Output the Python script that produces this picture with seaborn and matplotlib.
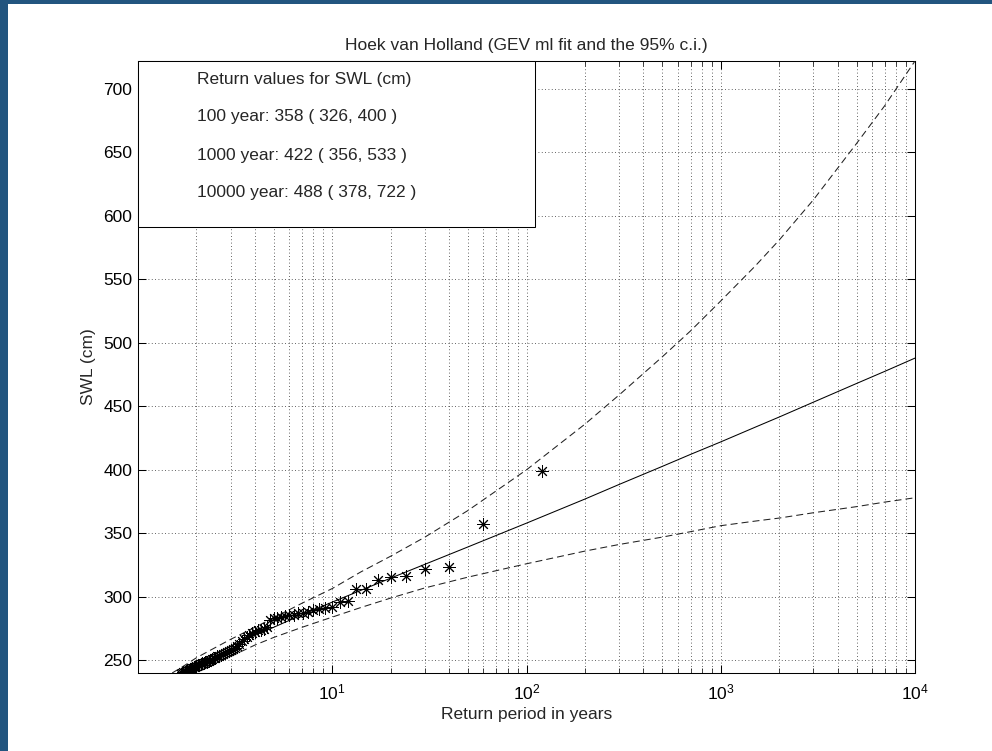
import matplotlib
matplotlib.use("Agg")
import matplotlib.pyplot as plt
import seaborn as sns
import pandas as pd
from matplotlib.ticker import FixedLocator, LogLocator, NullFormatter
from matplotlib.patches import Rectangle

# ---------------- data ----------------
obs_return_period = [120, 60, 40, 30, 24, 20, 17.14, 15, 13.33, 12, 10.91, 10, 9.23, 8.57,
                     8, 7.5, 7.06, 6.67, 6.32, 6, 5.71, 5.45, 5.22, 5, 4.8, 4.62, 4.44, 4.29,
                     4.14, 4, 3.87, 3.75, 3.64, 3.53, 3.43, 3.33, 3.24, 3.16, 3.08, 3, 2.93,
                     2.86, 2.79, 2.73, 2.67, 2.61, 2.55, 2.5, 2.45, 2.4, 2.35, 2.31, 2.26,
                     2.22, 2.18, 2.14, 2.11, 2.07, 2.03, 2, 1.97, 1.94, 1.9, 1.88, 1.85, 1.82,
                     1.79, 1.76, 1.74, 1.71, 1.69, 1.67]
obs_swl = [399, 357, 323.5, 322, 316.5, 315.5, 313.5, 306.5, 306, 297, 296, 292, 291.5, 290,
           289.5, 288, 287.5, 287, 286, 285.5, 285, 284, 283.5, 283, 281.5, 276, 275, 274,
           273.5, 272.5, 271.5, 270, 268.5, 267, 265, 263, 261, 259.5, 258.5, 258, 257,
           256.5, 256, 255, 254.5, 253.5, 253, 252, 251.5, 251, 250, 249.5, 249, 248.5,
           248, 247.5, 247, 246.5, 246, 245.5, 245, 244.5, 244, 243.5, 243, 242.5, 242,
           241.5, 241, 240.5, 240, 239.5]

fit_return_period = [1.5, 1.7, 2, 2.5, 3, 4, 5, 7, 10, 14, 20, 30, 50, 100, 200, 300, 500,
                     700, 1000, 1500, 2000, 3000, 5000, 7000, 10000]
fit_swl = [236.6, 241.7, 247.7, 255.3, 261, 269.6, 276, 285.9, 295.8, 305, 314.7, 325.6,
           339.3, 358, 377, 388.5, 402.7, 412.2, 422, 433.5, 441.6, 453.3, 468, 477.6, 488]
ci_upper = [240, 245, 252, 260, 266.5, 276, 283.5, 295, 306.5, 319.5, 332, 347, 368, 400,
            436, 459, 489, 509.5, 533, 560.3, 581, 612.7, 657, 687, 722]
ci_lower = [228, 233, 240, 247.5, 253, 262, 268, 276, 284, 291.5, 299, 307, 315.5, 326,
            336, 341.2, 347, 351.3, 356, 359.6, 362, 366.2, 371, 374.6, 378]

y_ticks = [250, 300, 350, 400, 450, 500, 550, 600, 650, 700]
x_ticks = [10, 100, 1000, 10000]

title = "Hoek van Holland (GEV ml fit and the 95% c.i.)"
box_lines = ["Return values for SWL (cm)",
             "100 year: 358 ( 326, 400 )",
             "1000 year: 422 ( 356, 533 )",
             "10000 year: 488 ( 378, 722 )"]

# ---------------- style ----------------
sns.set_style("ticks")
plt.rcParams["font.family"] = ["Liberation Sans", "DejaVu Sans"]
plt.rcParams["mathtext.fontset"] = "custom"
plt.rcParams["mathtext.rm"] = "Liberation Sans"
plt.rcParams["mathtext.it"] = "Liberation Sans:italic"
plt.rcParams["mathtext.bf"] = "Liberation Sans:bold"

FS = 12.5
fig = plt.figure(figsize=(9.92, 7.51), dpi=100)
fig.patch.set_facecolor("white")
ax = fig.add_axes([0.1391, 0.1039, 0.7833, 0.8149])
ax.set_facecolor("white")

fit_df = pd.DataFrame({"T": fit_return_period, "fit": fit_swl,
                       "upper": ci_upper, "lower": ci_lower})
obs_df = pd.DataFrame({"T": obs_return_period, "SWL": obs_swl})

dash = (0, (6.7, 3.9))
sns.lineplot(data=fit_df, x="T", y="fit", ax=ax, color="black", lw=0.75,
             estimator=None, sort=False, zorder=3)
sns.lineplot(data=fit_df, x="T", y="upper", ax=ax, color="#202020", lw=0.75,
             estimator=None, sort=False, linestyle=dash, zorder=3)
sns.lineplot(data=fit_df, x="T", y="lower", ax=ax, color="#202020", lw=0.75,
             estimator=None, sort=False, linestyle=dash, zorder=3)
sns.scatterplot(data=obs_df, x="T", y="SWL", ax=ax, marker=(8, 2, 0), s=72,
                color="black", edgecolor="black", linewidth=0.7, zorder=4)

ax.set_xscale("log")
ax.set_xlim(1, 1e4)
ax.set_ylim(240, 722)
ax.xaxis.set_major_locator(FixedLocator(x_ticks))
ax.xaxis.set_minor_locator(LogLocator(base=10, subs=[2, 3, 4, 5, 6, 7, 8, 9], numticks=20))
ax.xaxis.set_minor_formatter(NullFormatter())
ax.set_yticks(y_ticks)

grid_kw = dict(color="#303030", linestyle=(0, (1, 3)), linewidth=0.6)
ax.grid(True, which="major", axis="both", **grid_kw)
ax.grid(True, which="minor", axis="x", **grid_kw)
ax.set_axisbelow(True)

for sp in ax.spines.values():
    sp.set_visible(True)
    sp.set_color("black")
    sp.set_linewidth(0.75)

ax.tick_params(axis="both", which="major", direction="in", length=6, width=0.75,
               top=True, right=True, labelsize=FS, colors="black")
ax.tick_params(axis="x", which="major", pad=7)
ax.tick_params(axis="y", which="major", pad=4)
ax.tick_params(axis="x", which="minor", direction="in", length=3.5, width=0.6,
               top=True, bottom=True)

ax.set_xlabel("Return period in years", fontsize=FS, labelpad=3)
ax.set_ylabel("SWL (cm)", fontsize=FS, labelpad=5)
ax.set_title(title, fontsize=FS, pad=8)

# text box
ax.add_patch(Rectangle((0, 0.729), 0.511, 0.271, transform=ax.transAxes,
                       facecolor="white", edgecolor="black", lw=0.75, zorder=10,
                       clip_on=False))
for yy, line in zip([0.970, 0.909, 0.846, 0.785], box_lines):
    ax.text(0.0755, yy, line, transform=ax.transAxes, fontsize=FS, va="center",
            ha="left", zorder=11)

# dark blue frame on left and top edges
border = "#22557f"
fig.patches.append(Rectangle((0, 0), 8 / 992, 1, transform=fig.transFigure,
                             facecolor=border, edgecolor="none", zorder=20))
fig.patches.append(Rectangle((0, 1 - 4 / 751), 1, 4 / 751, transform=fig.transFigure,
                             facecolor=border, edgecolor="none", zorder=20))

fig.savefig("out.png", dpi=100)
